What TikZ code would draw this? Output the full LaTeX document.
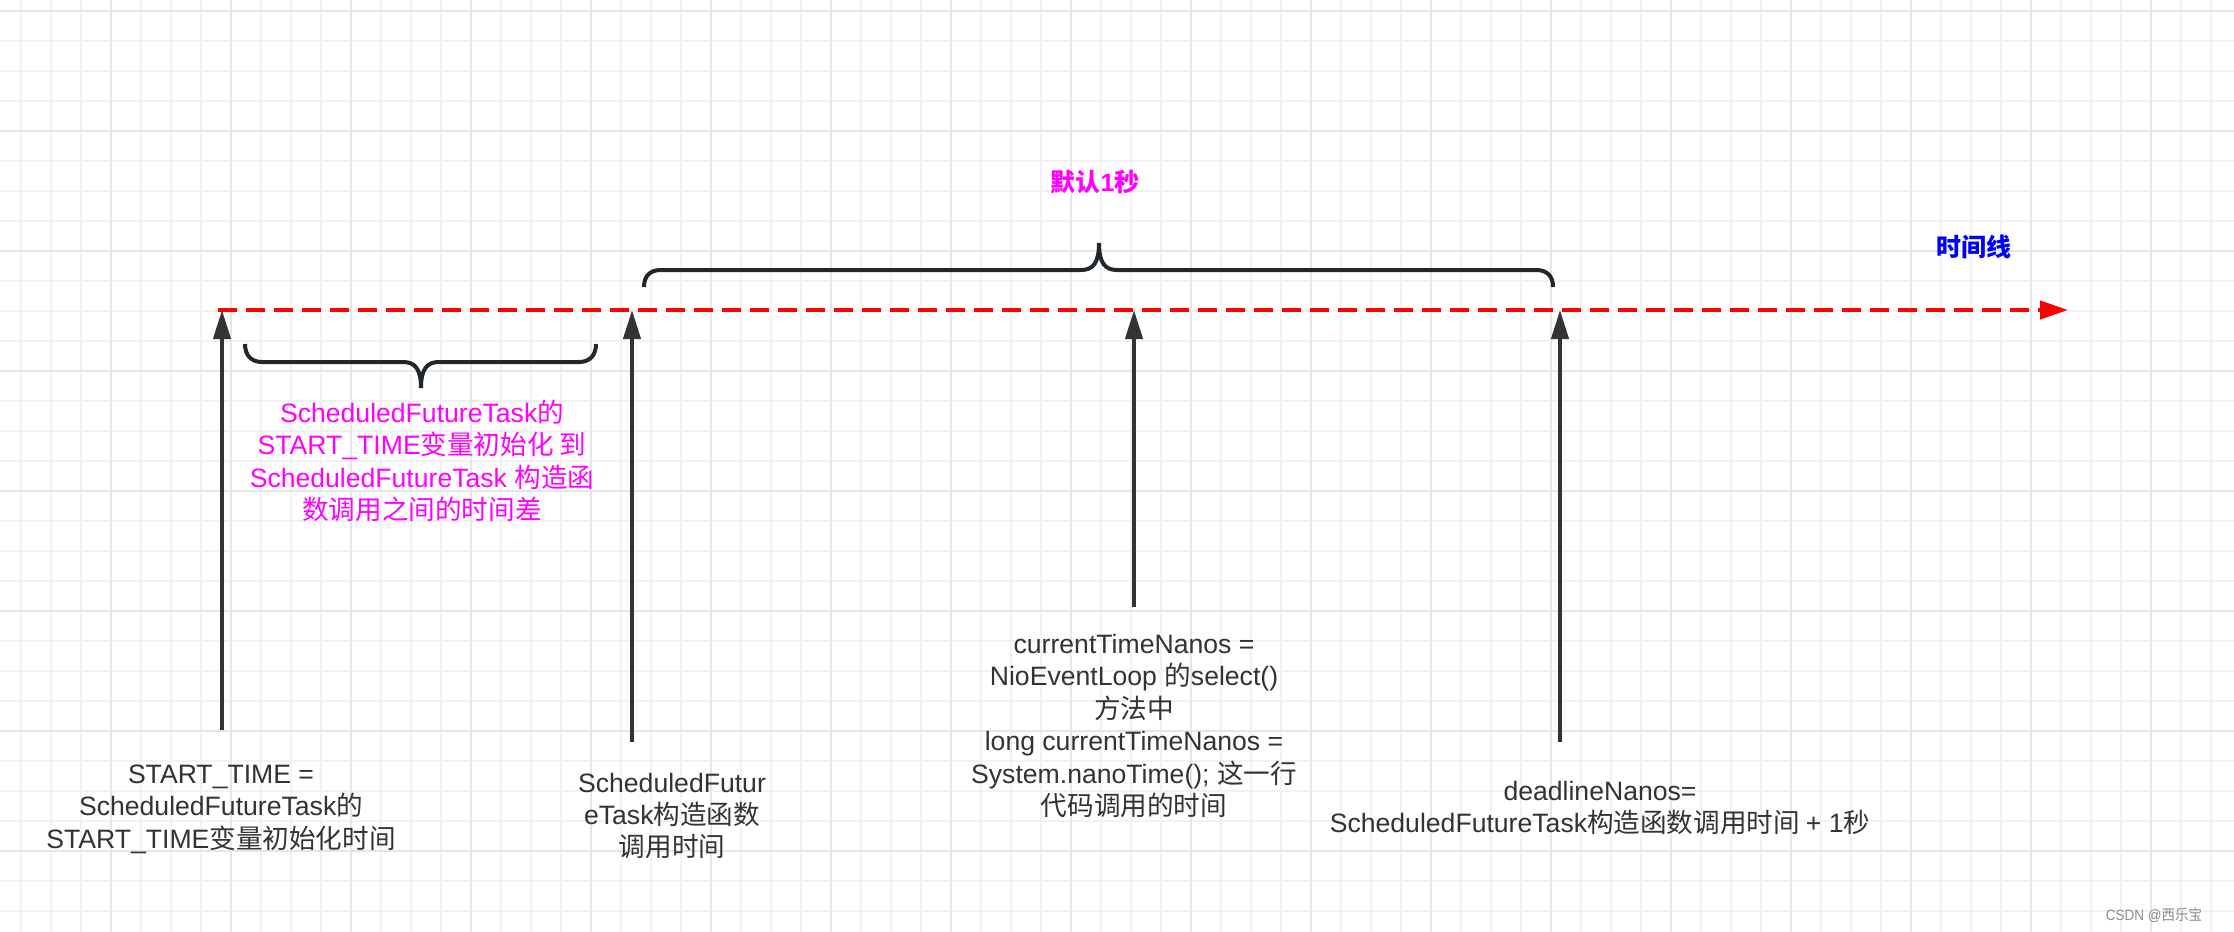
\documentclass[tikz,border=0pt]{standalone}
\usepackage{fontspec}
\usetikzlibrary{arrows.meta}
\setmainfont{Liberation Sans}
\newfontfamily\cjk{Noto Sans CJK SC}
\newfontfamily\lat{Liberation Sans}
\XeTeXinterchartokenstate=1
\newXeTeXintercharclass\cjkcls
\makeatletter
\count@="4E00
\loop
\XeTeXcharclass\count@=\cjkcls
\advance\count@ by 1
\ifnum\count@<"A000 \repeat
\makeatother
\XeTeXinterchartoks 0 \cjkcls = {\cjk}
\XeTeXinterchartoks 4095 \cjkcls = {\cjk}
\XeTeXinterchartoks \cjkcls 0 = {\lat}
\XeTeXinterchartoks 4095 0 = {\lat}
\definecolor{txt}{HTML}{333333}
\definecolor{arrc}{HTML}{333333}
\definecolor{bracec}{HTML}{20272D}
\definecolor{gridminor}{HTML}{F2F2F2}
\definecolor{gridmajor}{HTML}{E6E6E6}
\definecolor{mag}{HTML}{FF00FF}
\definecolor{blu}{HTML}{0000FF}
\definecolor{wm}{HTML}{8C8C8C}
\tikzset{
  minorline/.style={draw=gridminor, line width=1pt},
  majorline/.style={draw=gridmajor, line width=1pt},
  timeline/.style={draw=red, line width=2pt, dash pattern=on 9.5pt off 4.5pt, -{Triangle[length=14pt,width=9pt]}},
  uparrow/.style={draw=arrc, line width=2.1pt, -{Triangle[length=14.5pt,width=8.5pt]}},
  brace/.style={draw=bracec, line width=2pt},
  lbl/.style={inner sep=0pt, align=center, text=txt, font={\fontsize{13.3pt}{16.2pt}\selectfont}},
  maglbl/.style={lbl, text=mag},
  boldlbl/.style={inner sep=0pt, font={\fontsize{12.5pt}{15pt}\selectfont\bfseries}}
}
\begin{document}
\begin{tikzpicture}[x=0.5pt, y=-0.5pt]
\useasboundingbox (0,0) rectangle (2234,932);
\fill[white] (0,0) rectangle (2234,932);
% grid
\foreach \k in {0,...,73} \draw[minorline] (20.5+30*\k,0) -- (20.5+30*\k,932);
\foreach \k in {0,...,30} \draw[minorline] (0,10.5+30*\k) -- (2234,10.5+30*\k);
\foreach \k in {0,...,17} \draw[majorline] (110.5+120*\k,0) -- (110.5+120*\k,932);
\foreach \k in {0,...,7} \draw[majorline] (0,10.5+120*\k) -- (2234,10.5+120*\k);

% timeline
\coordinate (ts) at (218,310);
\coordinate (te) at (2068,310);
\draw[timeline] (ts) -- (te);

% arrows
\coordinate (a1b) at (222,730);  \coordinate (a1t) at (222,310);
\coordinate (a2b) at (632,742);  \coordinate (a2t) at (632,310);
\coordinate (a3b) at (1134,607); \coordinate (a3t) at (1134,310);
\coordinate (a4b) at (1560,742); \coordinate (a4t) at (1560,310);
\draw[uparrow] (a1b) -- (a1t);
\draw[uparrow] (a2b) -- (a2t);
\draw[uparrow] (a3b) -- (a3t);
\draw[uparrow] (a4b) -- (a4t);

% top brace
\draw[brace] (644,287) .. controls (644,276) and (650,270) .. (661,270) -- (1081,270)
  .. controls (1093,270) and (1099,263) .. (1099,243)
  .. controls (1099,263) and (1105,270) .. (1117,270) -- (1536,270)
  .. controls (1547,270) and (1553,276) .. (1553,287);
% lower brace
\draw[brace] (245,344) .. controls (245,355) and (251,362) .. (262,362) -- (403,362)
  .. controls (415,362) and (421,369) .. (421,388)
  .. controls (421,369) and (427,362) .. (439,362) -- (579,362)
  .. controls (590,362) and (596,355) .. (596,344);

% labels
\node[boldlbl, text=mag] (one) at (1095,182) {默认1秒};
\node[boldlbl, text=blu] (tl) at (1974,247) {时间线};
\node[maglbl] (gap) at (422,461) {ScheduledFutureTask的\\START\_TIME变量初始化 到\\ScheduledFutureTask 构造函\\数调用之间的时间差};
\node[lbl] (t1) at (221,809) {START\_TIME =\\ScheduledFutureTask的\\START\_TIME变量初始化时间};
\node[lbl] (t2) at (672,816) {ScheduledFutur\\eTask构造函数\\调用时间};
\node[lbl] (t3) at (1134,726) {currentTimeNanos =\\NioEventLoop 的select()\\方法中\\long currentTimeNanos =\\System.nanoTime(); 这一行\\代码调用的时间};
\node[lbl] (t4) at (1600,808) {deadlineNanos=\\ScheduledFutureTask构造函数调用时间 + 1秒};
\node[inner sep=0pt, text=wm, xscale=0.9, font={\fontsize{7.5pt}{9pt}\selectfont}] (wmk) at (2154,915) {CSDN @西乐宝};
\end{tikzpicture}
\end{document}
